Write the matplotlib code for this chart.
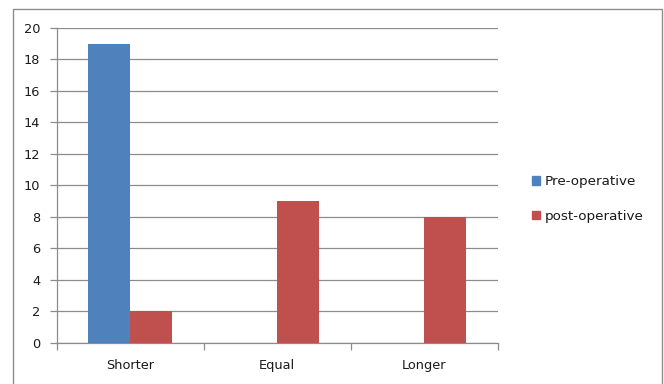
import matplotlib
matplotlib.use("Agg")
import matplotlib.pyplot as plt
from matplotlib.patches import Rectangle, Patch
import numpy as np

categories = ["Shorter", "Equal", "Longer"]
pre_operative = [19, 0, 0]
post_operative = [2, 9, 8]
series_names = ["Pre-operative", "post-operative"]
y_ticks = [0, 2, 4, 6, 8, 10, 12, 14, 16, 18, 20]

BLUE = "#4F81BD"
RED = "#C0504D"
GRID = "#8C8C8C"
TEXT = "#1A1A1A"
FS = 9.3

plt.rcParams["font.family"] = ["DejaVu Sans"]

fig = plt.figure(figsize=(6.64, 3.84), dpi=100)
fig.patch.set_facecolor("white")

# chart frame
fig.patches.append(Rectangle((13 / 664, -0.05), (662 - 13) / 664, (384 - 9) / 384 + 0.05,
                             transform=fig.transFigure, fill=False,
                             edgecolor="#8E8E8E", linewidth=1.0))

ax = fig.add_axes([57 / 664, 1 - 342.7 / 384, (497.6 - 57) / 664, (342.7 - 28) / 384])

x = np.arange(len(categories)) + 0.5
w = 0.286
ax.bar(x - w / 2, pre_operative, w, color=BLUE, zorder=3)
ax.bar(x + w / 2, post_operative, w, color=RED, zorder=3)

ax.set_xlim(0, len(categories))
ax.set_ylim(0, 20)
ax.set_yticks(y_ticks)
ax.yaxis.grid(True, color=GRID, linewidth=0.9, zorder=0)
ax.set_axisbelow(True)

for s in ("top", "right"):
    ax.spines[s].set_visible(False)
for s in ("left", "bottom"):
    ax.spines[s].set_color(GRID)
    ax.spines[s].set_linewidth(0.9)

ax.tick_params(axis="y", length=5, width=0.9, color=GRID, labelsize=FS,
               labelcolor=TEXT, pad=7)
ax.set_xticks(x)
ax.set_xticklabels(categories)
ax.set_xticks(np.arange(len(categories) + 1), minor=True)
ax.tick_params(axis="x", which="major", length=0, labelsize=FS, labelcolor=TEXT, pad=12)
ax.tick_params(axis="x", which="minor", length=5, width=0.9, color=GRID)

handles = [Patch(color=BLUE), Patch(color=RED)]
fig.legend(handles, series_names, loc="center left",
           bbox_to_anchor=(520 / 664, 1 - 199 / 384), frameon=False,
           fontsize=FS + 0.4, handlelength=0.6, handleheight=0.6,
           handletextpad=0.35, labelspacing=1.6, labelcolor=TEXT)

fig.savefig("out.png", dpi=100, facecolor="white")
